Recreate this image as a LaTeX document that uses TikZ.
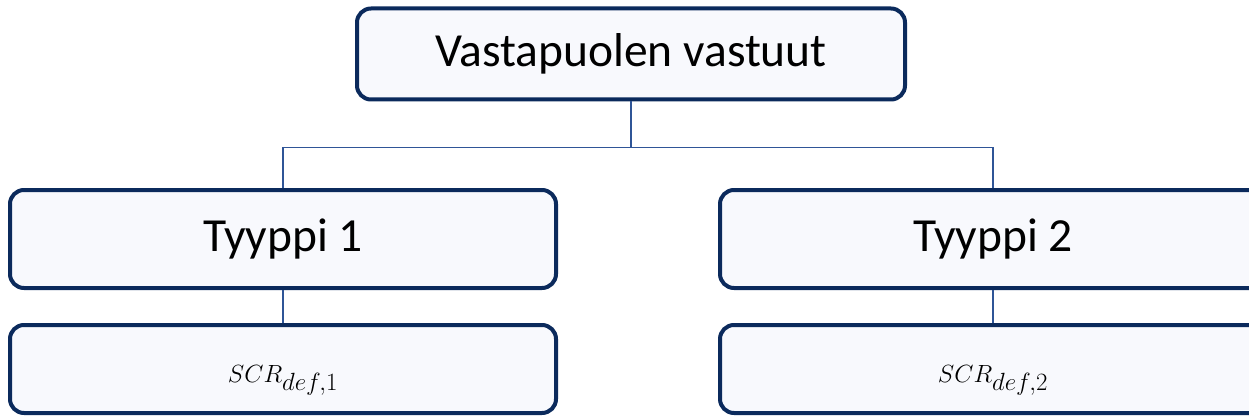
\documentclass[tikz,border=0pt]{standalone}
\usepackage{fontspec}
\setmainfont{Carlito}
\definecolor{boxborder}{HTML}{0B2A5C}
\definecolor{boxfill}{HTML}{F8F9FD}
\definecolor{linkblue}{HTML}{2F5597}
\begin{document}
\begin{tikzpicture}[x=1pt,y=-1pt,
  orgbox/.style={draw=boxborder, fill=boxfill, line width=4pt, rounded corners=14pt,
    minimum width=546pt, inner sep=0pt, font=\fontsize{47.5}{56}\selectfont},
  mathbox/.style={orgbox, minimum height=88pt, text height=26pt, text depth=0pt,
    font=\fontsize{33}{40}\selectfont},
  link/.style={draw=linkblue, line width=1.8pt}]
\useasboundingbox (0,0) rectangle (1249,417);
\clip (0,0) rectangle (1249,417);
\node[orgbox, minimum width=548pt, minimum height=91pt] (top) at (631,54) {Vastapuolen vastuut};
\node[orgbox, minimum height=98pt] (t1) at (283,239) {Tyyppi 1};
\node[orgbox, minimum height=98pt] (t2) at (993,239) {Tyyppi 2};
\node[mathbox] (s1) at (283,369) {$SCR_{def,1}$};
\node[mathbox] (s2) at (993,369) {$SCR_{def,2}$};
\draw[link] (top.south) -- ++(0,46) coordinate (j);
\draw[link] (t1.north) |- (j) -| (t2.north);
\draw[link] (t1.south) -- (s1.north);
\draw[link] (t2.south) -- (s2.north);
\end{tikzpicture}
\end{document}
